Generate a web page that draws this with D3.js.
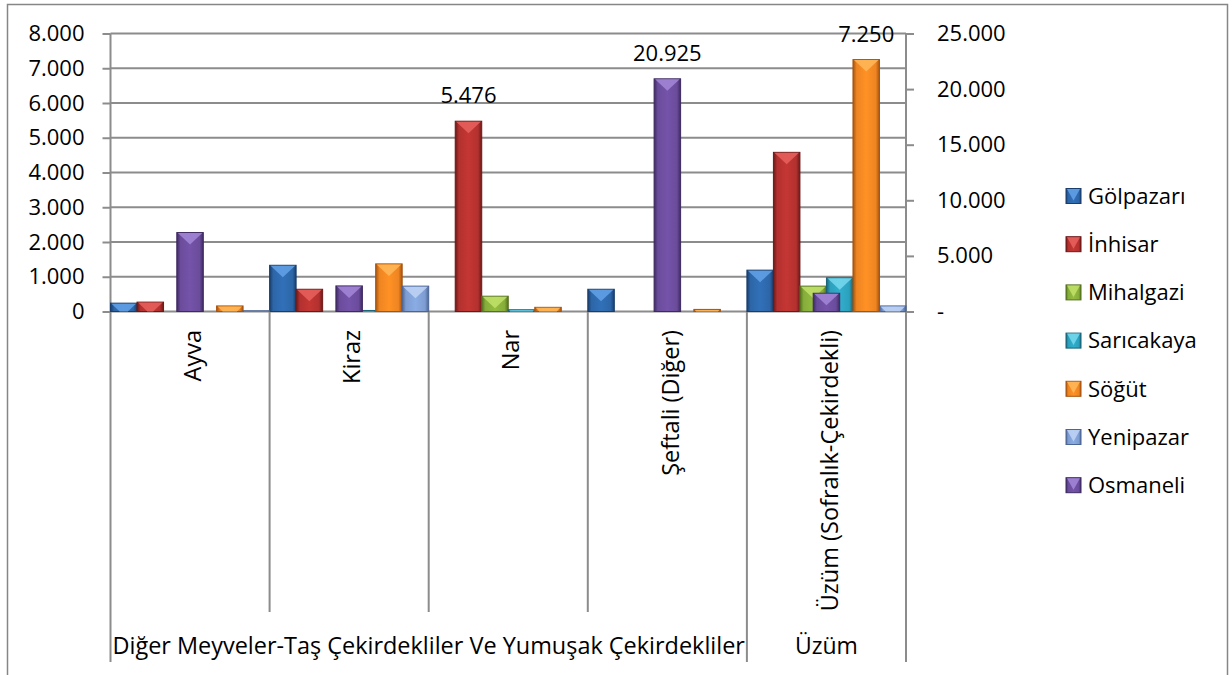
<!DOCTYPE html>
<html>
  <head>
    <meta charset="utf-8">
    <script src="https://cdn.jsdelivr.net/npm/d3@7"></script>
    <style>
      body { margin: 0; background: #ffffff; }
      svg { display: block; }
      text { font-family: "Open Sans", sans-serif; font-size: 22px; fill: #000; }
    </style>
  </head>
  <body>
    <script>
      WIDTH = 1232
      HEIGHT = 675

      // categories (first level) and their groups (second level)
      var categories = ["Ayva", "Kiraz", "Nar", "Şeftali (Diğer)", "Üzüm (Sofralık-Çekirdekli)"]
      var groupNames = ["Diğer Meyveler-Taş Çekirdekliler Ve Yumuşak Çekirdekliler", "Üzüm"]
      var groupSizes = [4, 1]

      // primary axis series
      var seriesNames = ["Gölpazarı", "İnhisar", "Mihalgazi", "Sarıcakaya", "Söğüt", "Yenipazar"]
      var golpazari = [240, 1330, 0, 640, 1190]
      var inhisar = [270, 640, 5476, 0, 4580]
      var mihalgazi = [0, 0, 440, 0, 730]
      var saricakaya = [0, 30, 50, 0, 970]
      var sogut = [160, 1370, 120, 60, 7250]
      var yenipazar = [20, 730, 0, 0, 160]
      var primaryValues = [golpazari, inhisar, mihalgazi, saricakaya, sogut, yenipazar]

      // secondary axis series
      var secondaryName = "Osmaneli"
      var osmaneli = [7100, 2300, 0, 20925, 1640]

      // axis ticks
      var leftTicks = [0, 1000, 2000, 3000, 4000, 5000, 6000, 7000, 8000]
      var rightTicks = [0, 5000, 10000, 15000, 20000, 25000]

      // the points that carry a value label
      var labelSeries = ["İnhisar", "Osmaneli", "Söğüt"]
      var labelCategories = ["Nar", "Şeftali (Diğer)", "Üzüm (Sofralık-Çekirdekli)"]

      var legendNames = seriesNames.concat([secondaryName])

      // colours: base, light (top facet), dark (edges)
      var palette = {
        "Gölpazarı": ["#2d66a8", "#63a2e8", "#1a3e6c"],
        "İnhisar": ["#b3312f", "#e8625e", "#6b1918"],
        "Mihalgazi": ["#86ad3a", "#c2e26a", "#55701f"],
        "Sarıcakaya": ["#2ca0bc", "#78d9ef", "#196377"],
        "Söğüt": ["#ee8522", "#ffb85a", "#a65410"],
        "Yenipazar": ["#7e9dd1", "#bfd3f4", "#4b6595"],
        "Osmaneli": ["#6a4c9b", "#a487d8", "#3e2a61"]
      }

      var loc = d3.formatLocale({decimal: ",", thousands: ".", grouping: [3], currency: ["", ""]})
      var fmt = loc.format(",d")

      var svg = d3.select("body").append("svg")
        .attr("width", WIDTH)
        .attr("height", HEIGHT)

      // gradients for the bevelled bars
      var defs = svg.append("defs")
      legendNames.forEach(function(name, i) {
        var c = palette[name]
        var grad = defs.append("linearGradient").attr("id", "grad" + i)
          .attr("x1", "0").attr("x2", "1").attr("y1", "0").attr("y2", "0")
        grad.append("stop").attr("offset", "0").attr("stop-color", c[2])
        grad.append("stop").attr("offset", "0.14").attr("stop-color", c[0])
        grad.append("stop").attr("offset", "0.5").attr("stop-color", d3.color(c[0]).brighter(0.25))
        grad.append("stop").attr("offset", "0.86").attr("stop-color", c[0])
        grad.append("stop").attr("offset", "1").attr("stop-color", c[2])
      })

      // outer chart frame (bottom edge lies below the window)
      svg.append("rect")
        .attr("x", 7.5).attr("y", 4.5)
        .attr("width", 1220).attr("height", 720)
        .attr("fill", "#fff").attr("stroke", "#868686").attr("stroke-width", 1.5)

      // scales
      var PLOTLEFT = 110.5, PLOTRIGHT = 906, PLOTTOP = 33.5, PLOTBOTTOM = 311.5
      var x = d3.scaleBand().domain(categories).range([PLOTLEFT, PLOTRIGHT]).padding(0)
      var xs = d3.scaleBand().domain(seriesNames).range([0, x.bandwidth()]).padding(0)
      var yL = d3.scaleLinear().domain([0, 8000]).range([PLOTBOTTOM, PLOTTOP])
      var yR = d3.scaleLinear().domain([0, 25000]).range([PLOTBOTTOM, PLOTTOP])

      // gridlines
      svg.append("g").selectAll("line").data(leftTicks).enter()
        .append("line")
        .attr("x1", PLOTLEFT).attr("x2", PLOTRIGHT)
        .attr("y1", function(d) { return yL(d) })
        .attr("y2", function(d) { return yL(d) })
        .attr("stroke", "#8c8c8c").attr("stroke-width", 2)

      // left axis
      var axL = svg.append("g").attr("transform", "translate(" + PLOTLEFT + ",0)")
        .call(d3.axisLeft(yL).tickValues(leftTicks).tickSize(8).tickPadding(18)
          .tickFormat(function(d) { return fmt(d) }))
      // right axis
      var axR = svg.append("g").attr("transform", "translate(" + PLOTRIGHT + ",0)")
        .call(d3.axisRight(yR).tickValues(rightTicks).tickSize(8).tickPadding(23)
          .tickFormat(function(d) { return d === 0 ? "-" : fmt(d) }))
      ;[axL, axR].forEach(function(ax) {
        ax.select(".domain").remove()
        ax.selectAll("line").attr("stroke", "#8c8c8c").attr("stroke-width", 2)
        ax.selectAll("text").attr("fill", "#000")
        ax.attr("font-size", null).attr("font-family", null)
      })

      // vertical axis lines and category dividers
      var groupEdges = [0]
      groupSizes.forEach(function(n, i) { groupEdges.push(groupEdges[i] + n) })
      var edgeX = function(i) { return i < categories.length ? x(categories[i]) : PLOTRIGHT }
      var divs = svg.append("g")
      d3.range(categories.length + 1).forEach(function(i) {
        var major = groupEdges.indexOf(i) >= 0
        divs.append("line")
          .attr("x1", edgeX(i)).attr("x2", edgeX(i))
          .attr("y1", (i === 0 || i === categories.length) ? PLOTTOP : PLOTBOTTOM)
          .attr("y2", major ? 662 : 612)
          .attr("stroke", "#8c8c8c").attr("stroke-width", 2)
      })

      // one bevelled bar
      function drawBar(g, x0, w, yTop, yBase, name) {
        var c = palette[name]
        var h = yBase - yTop
        if (h <= 0) return
        g.append("rect")
          .attr("x", x0).attr("y", yTop).attr("width", w).attr("height", h)
          .attr("fill", "url(#grad" + legendNames.indexOf(name) + ")")
          .attr("stroke", c[2]).attr("stroke-width", 1)
        var depth = Math.min(12, h)
        var t = (w / 2) * depth / 12
        g.append("polygon")
          .attr("points", [[x0 + 1, yTop + 0.5], [x0 + w - 1, yTop + 0.5],
                           [x0 + w - t, yTop + depth], [x0 + t, yTop + depth]].join(" "))
          .attr("fill", c[1]).attr("opacity", 0.85)
      }

      // primary bars
      var barsG = svg.append("g")
      seriesNames.forEach(function(name, s) {
        primaryValues[s].forEach(function(v, i) {
          drawBar(barsG, x(categories[i]) + xs(name), xs.bandwidth(), yL(v), yL(0), name)
        })
      })
      // secondary bars, centred in each category
      osmaneli.forEach(function(v, i) {
        var cx = x(categories[i]) + x.bandwidth() / 2
        drawBar(barsG, cx - xs.bandwidth() / 2, xs.bandwidth(), yR(v), yR(0), secondaryName)
      })

      // value labels
      labelSeries.forEach(function(name, k) {
        var i = categories.indexOf(labelCategories[k])
        var v, cx, yy
        if (name === secondaryName) {
          v = osmaneli[i]
          cx = x(categories[i]) + x.bandwidth() / 2
          yy = yR(v)
        } else {
          v = primaryValues[seriesNames.indexOf(name)][i]
          cx = x(categories[i]) + xs(name) + xs.bandwidth() / 2
          yy = yL(v)
        }
        svg.append("text").attr("x", cx).attr("y", yy - 18)
          .attr("text-anchor", "middle").text(fmt(v))
      })

      // category labels (rotated)
      svg.append("g").selectAll("text").data(categories).enter()
        .append("text")
        .attr("transform", function(d) {
          return "translate(" + (x(d) + x.bandwidth() / 2 + 3) + ",330) rotate(-90)"
        })
        .attr("text-anchor", "end")
        .attr("dy", "0.35em")
        .style("font-size", "23.5px")
        .text(function(d) { return d })

      // group labels, stretched like the original when they nearly fill their span
      groupNames.forEach(function(name, gi) {
        var a = edgeX(groupEdges[gi]), b = edgeX(groupEdges[gi + 1])
        var t = svg.append("text").attr("x", (a + b) / 2).attr("y", 654)
          .attr("text-anchor", "middle").style("font-size", "23px").text(name)
        var len = t.node().getComputedTextLength()
        if (len > (b - a) * 0.8) {
          t.attr("textLength", b - a - 4).attr("lengthAdjust", "spacingAndGlyphs")
        }
      })

      // legend
      var legend = svg.append("g")
      legendNames.forEach(function(name, i) {
        var yy = 196 + i * 48.2
        drawBar(legend, 1066, 15, yy - 7.5, yy + 7.5, name)
        legend.append("text").attr("x", 1088).attr("y", yy).attr("dy", "0.35em").text(name)
      })
    </script>
  </body>
</html>
